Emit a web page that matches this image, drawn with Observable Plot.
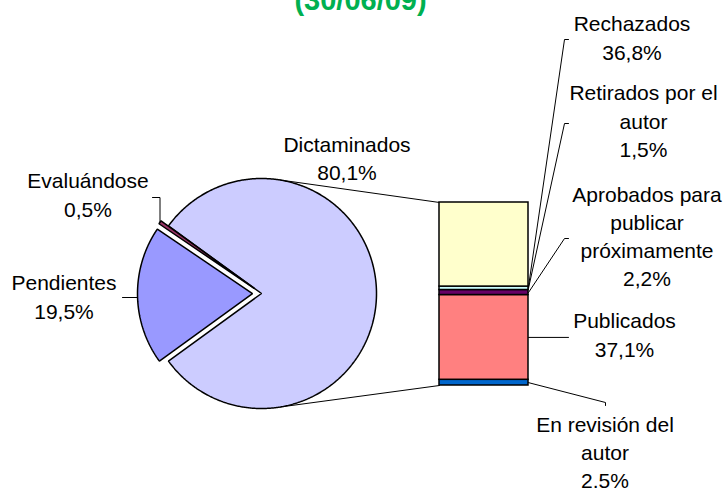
<!DOCTYPE html>
<html><head><meta charset="utf-8">
<script src="https://cdn.jsdelivr.net/npm/d3@7"></script>
<script src="https://cdn.jsdelivr.net/npm/@observablehq/plot@0.6"></script>
<style>html,body{margin:0;padding:0;background:#fff;} svg{display:block}</style>
</head><body><div id="chart"></div>
<script>
// ---- data ----
const titleText = "(30/06/09)";
const pieCategories = ["Dictaminados", "Evaluándose", "Pendientes"];
const pieValues = [80.1, 0.5, 19.5];
const pieValueLabels = ["80,1%", "0,5%", "19,5%"];
const barCategories = ["En revisión del\nautor", "Publicados", "Aprobados para\npublicar\npróximamente", "Retirados por el\nautor", "Rechazados"];
const barValues = [2.5, 37.1, 2.2, 1.5, 36.8];
const barValueLabels = ["2.5%", "37,1%", "2,2%", "1,5%", "36,8%"];

// ---- styles / layout ----
const W = 726, H = 489;
const pieColors = ["#CCCCFF", "#993366", "#9999FF"];
const barColors = ["#0066CC", "#FF8080", "#660066", "#CCFFFF", "#FFFFCC"];
const pie = {cx: 261, cy: 293, r: 115, explode: 9};
const bar = {x1: 439, x2: 528, bottom: 385, top: 202};
const pieLabelPos = [{x: 346.5, y: 151.5}, {x: 87.5, y: 188}, {x: 63.5, y: 290}];
const barLabelPos = [{x: 604.5, y: 431.5}, {x: 624, y: 328}, {x: 646.5, y: 201.5}, {x: 643, y: 100}, {x: 631.5, y: 31}];
const barLeaderFrac = [0.5, 0.5, 0.5, 0.5, 0];
const FS = 21, LH = 1.34;

// ---- pie geometry ----
const pieTotal = d3.sum(pieValues);
const deg = Math.PI / 180;
let a0 = -(pieValues[0] / pieTotal * 360) / 2;
const slices = pieValues.map((v, i) => {
  const span = v / pieTotal * 360;
  const s = {i, start: a0, end: a0 + span, mid: a0 + span / 2};
  a0 += span;
  const off = i === 0 ? 0 : pie.explode;
  s.cx = pie.cx + off * Math.cos(s.mid * deg);
  s.cy = pie.cy - off * Math.sin(s.mid * deg);
  const pts = [{x: s.cx, y: s.cy}];
  const n = Math.max(2, Math.ceil(span / 0.5));
  for (let k = 0; k <= n; k++) {
    const a = (s.start + span * k / n) * deg;
    pts.push({x: s.cx + pie.r * Math.cos(a), y: s.cy - pie.r * Math.sin(a)});
  }
  s.pts = pts;
  s.outer = {x: s.cx + pie.r * Math.cos(s.mid * deg), y: s.cy - pie.r * Math.sin(s.mid * deg)};
  return s;
});

// ---- bar geometry ----
const barSum = d3.sum(barValues);
const pxPer = (bar.bottom - bar.top) / barSum;
let cum = 0;
const barData = barValues.map((v, i) => {
  const d = {i, y2: bar.bottom - cum * pxPer, y1: bar.bottom - (cum + v) * pxPer, fill: barColors[i]};
  cum += v;
  d.lead = d.y2 - (d.y2 - d.y1) * barLeaderFrac[i];
  return d;
});

// ---- series lines (tangents from bar corners to the pie) ----
function tangent(px, py, up) {
  const dx = px - pie.cx, dy = py - pie.cy, d = Math.hypot(dx, dy);
  const th = Math.atan2(dy, dx), al = Math.acos(pie.r / d);
  const t = up ? th - al : th + al;
  return {x: pie.cx + pie.r * Math.cos(t), y: pie.cy + pie.r * Math.sin(t)};
}
const tTop = tangent(bar.x1, bar.top, true), tBot = tangent(bar.x1, bar.bottom, false);
const seriesLines = [
  {id: "top", x: tTop.x, y: tTop.y}, {id: "top", x: bar.x1, y: bar.top},
  {id: "bot", x: tBot.x, y: tBot.y}, {id: "bot", x: bar.x1, y: bar.bottom}
];

// ---- leader lines ----
const L = [];
function poly(id, pts) { pts.forEach(p => L.push({id, x: p[0], y: p[1]})); }
const bx = bar.x2;
poly("b0", [[bx, barData[0].lead], [605, 402], [605, 405]]);
poly("b1", [[bx, barData[1].lead], [568, barData[1].lead]]);
poly("b2", [[bx, barData[2].lead], [564, 238], [568, 238]]);
poly("b3", [[bx, barData[3].lead], [564, 123], [568, 123]]);
poly("b4", [[bx, barData[4].lead], [564, 39], [568, 39]]);
poly("p1", [[152, 197], [slices[1].outer.x, 197], [slices[1].outer.x, slices[1].outer.y]]);
poly("p2", [[122, 297], [slices[2].outer.x, 297], [slices[2].outer.x, slices[2].outer.y]]);

// ---- labels ----
const labels = [
  ...pieCategories.map((c, i) => ({x: pieLabelPos[i].x, y: pieLabelPos[i].y, text: c + "\n" + pieValueLabels[i]})),
  ...barCategories.map((c, i) => ({x: barLabelPos[i].x, y: barLabelPos[i].y, text: c + "\n" + barValueLabels[i]}))
];
// Plot's "top" line anchor shifts the first baseline by 0.71em * lineHeight
const capOff = 0.71 * FS * LH;

const marks = [
  Plot.line(seriesLines, {x: "x", y: "y", z: "id", stroke: "black", strokeWidth: 1}),
  ...slices.map(s => Plot.line(s.pts, {x: "x", y: "y", curve: "linear-closed", fill: pieColors[s.i], stroke: "black", strokeWidth: 1.5, strokeLinejoin: "miter"})),
  Plot.rect(barData, {x1: bar.x1, x2: bar.x2, y1: "y1", y2: "y2", fill: "fill", stroke: "black", strokeWidth: 1.5}),
  Plot.line(L, {x: "x", y: "y", z: "id", stroke: "black", strokeWidth: 1}),
  Plot.text(labels, {x: "x", y: d => d.y - capOff, text: "text", fontSize: FS, lineHeight: LH, lineAnchor: "top", textAnchor: "middle", fill: "black"}),
  Plot.text([titleText], {x: () => 360, y: () => 9.5 - 0.71 * 29, text: d => d, fontSize: 29, fontWeight: "bold", lineAnchor: "top", textAnchor: "middle", fill: "#00B050"})
];

const chart = Plot.plot({
  width: W, height: H, margin: 0,
  x: {domain: [0, W], range: [0, W], axis: null},
  y: {domain: [0, H], range: [0, H], axis: null},
  color: {type: "identity"},
  style: {fontFamily: "'Liberation Sans', Arial, sans-serif", background: "white", overflow: "hidden"},
  marks
});
document.getElementById("chart").appendChild(chart);
</script></body></html>
